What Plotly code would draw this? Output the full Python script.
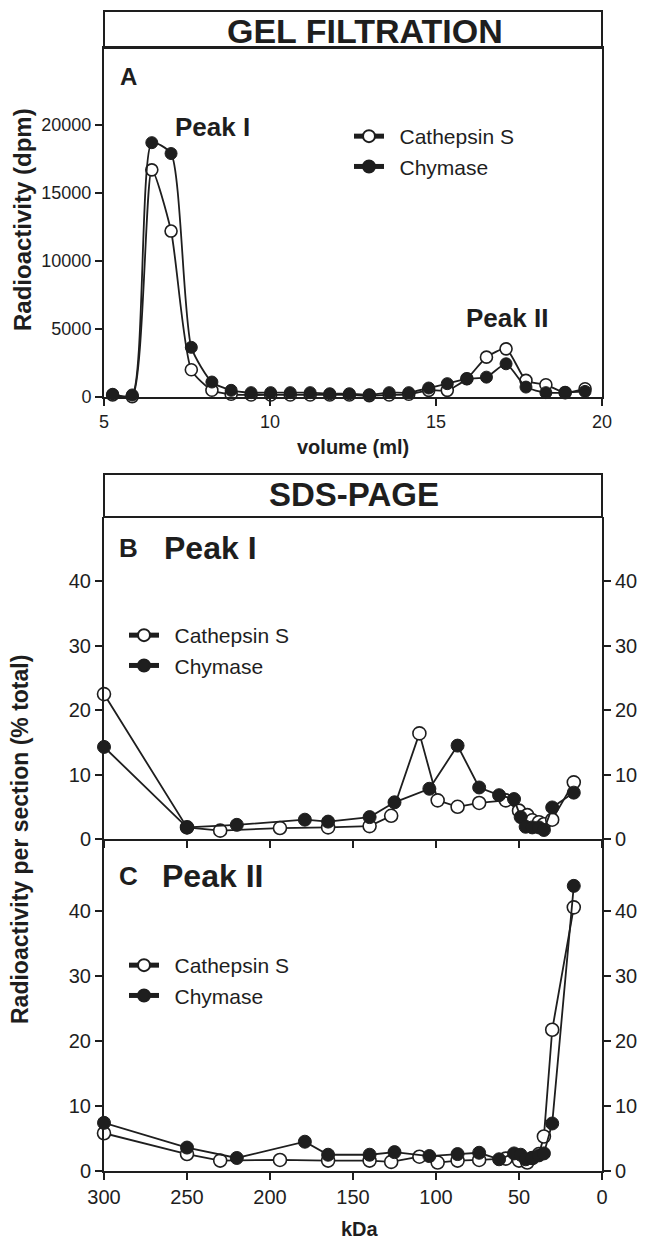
import plotly.graph_objects as go

# ---------------- data ----------------
# Panel A: gel filtration (volume in ml, radioactivity in dpm)
volume_ml = [5.26, 5.85, 6.44, 7.02, 7.63, 8.25, 8.83, 9.43, 10.02, 10.61, 11.21, 11.80,
             12.39, 12.99, 13.59, 14.18, 14.78, 15.34, 15.93, 16.52, 17.11, 17.71, 18.31,
             18.89, 19.49]
cathepsin_A = [150, 30, 16700, 12200, 2000, 500, 200, 150, 150, 150, 150, 150, 150, 100,
               150, 200, 490, 490, 1340, 2930, 3540, 1220, 900, 320, 610]
chymase_A = [200, 150, 18700, 17900, 3650, 1100, 490, 320, 320, 320, 320, 240, 240, 170,
             320, 320, 660, 980, 1340, 1460, 2440, 730, 320, 320, 410]

# Panels B/C: SDS-PAGE sections (kDa) and % total radioactivity
kda_cathepsin = [300, 250, 230, 194, 165, 140, 127, 110, 99, 87, 74, 58, 50, 45, 42, 38, 35, 30, 17]
kda_chymase = [300, 250, 220, 179, 165, 140, 125, 104, 87, 74, 62, 53, 49, 46, 42, 38, 35, 30, 17]
cathepsin_B = [22.5, 1.8, 1.3, 1.7, 1.8, 2.0, 3.6, 16.4, 6.0, 5.0, 5.6, 6.0, 4.4, 3.7, 2.9, 2.6, 2.3, 3.0, 8.8]
chymase_B = [14.3, 1.8, 2.2, 3.0, 2.7, 3.4, 5.7, 7.8, 14.5, 8.0, 6.8, 6.2, 3.4, 1.9, 1.8, 1.8, 1.4, 4.9, 7.2]
cathepsin_C = [5.8, 2.6, 1.6, 1.7, 1.6, 1.6, 1.4, 2.2, 1.3, 1.6, 1.7, 1.9, 1.6, 1.3, 2.0, 2.6, 5.3, 21.7, 40.5]
chymase_C = [7.4, 3.6, 2.0, 4.5, 2.5, 2.5, 2.9, 2.3, 2.6, 2.8, 1.8, 2.7, 2.5, 1.8, 2.0, 2.4, 2.7, 7.3, 43.8]

names = ["Cathepsin S", "Chymase"]
ticks_A_x = [5, 10, 15, 20]
ticks_A_y = [0, 5000, 10000, 15000, 20000]
ticks_kda = [300, 250, 200, 150, 100, 50, 0]
ticks_pct = [0, 10, 20, 30, 40]

# ---------------- layout helpers ----------------
W, H = 659, 1243
OFF = 8  # the page body margin shifts the figure by 8 px
def px(x):
    return (x - OFF) / W
def py(y):
    return 1 - (y - OFF) / H

INK = "#1e1e1e"
SANS = "Liberation Sans, Arial, sans-serif"
XL, XR = 104, 602

fig = go.Figure()

def add_pair(x_cat, y_cat, x_chy, y_chy, xa, ya, legend, msize, shape):
    fig.add_trace(go.Scatter(
        x=x_cat, y=y_cat, name="\u2002" + names[0],
        mode="lines+markers", xaxis=xa, yaxis=ya, legend=legend, cliponaxis=False,
        line=dict(color=INK, width=1.8, shape=shape, smoothing=0.6),
        marker=dict(symbol="circle", size=msize, color="white", line=dict(color=INK, width=1.6))))
    fig.add_trace(go.Scatter(
        x=x_chy, y=y_chy, name="\u2002" + names[1],
        mode="lines+markers", xaxis=xa, yaxis=ya, legend=legend, cliponaxis=False,
        line=dict(color=INK, width=1.8, shape=shape, smoothing=0.6),
        marker=dict(symbol="circle", size=msize, color=INK, line=dict(color=INK, width=1))))

add_pair(volume_ml, cathepsin_A, volume_ml, chymase_A, "x", "y", "legend", 12, "spline")
add_pair(kda_cathepsin, cathepsin_B, kda_chymase, chymase_B, "x2", "y2", "legend2", 13, "linear")
add_pair(kda_cathepsin, cathepsin_C, kda_chymase, chymase_C, "x3", "y3", "legend3", 13, "linear")
# empty traces to host the right-hand axes of B and C
fig.add_trace(go.Scatter(x=[], y=[], xaxis="x2", yaxis="y4", showlegend=False))
fig.add_trace(go.Scatter(x=[], y=[], xaxis="x3", yaxis="y5", showlegend=False))

axis_common = dict(showline=True, linecolor=INK, linewidth=2, ticks="outside", tickcolor=INK,
                   tickwidth=2, ticklen=7, showgrid=False, zeroline=False, automargin=False)

dom_x = [px(XL), px(XR)]
dom_A = [py(397), py(48)]
dom_B = [py(839), py(517)]
dom_C = [py(1171), py(839)]

leg = dict(xanchor="left", yanchor="top", bgcolor="rgba(0,0,0,0)",
           font=dict(size=21, family=SANS, color=INK), tracegroupgap=0, itemsizing="constant")

fig.update_layout(
    template="none",
    width=W, height=H, margin=dict(l=0, r=0, t=0, b=0, autoexpand=False),
    paper_bgcolor="white", plot_bgcolor="white",
    font=dict(family=SANS, color=INK),
    xaxis=dict(axis_common, domain=dom_x, anchor="y", range=[5, 20], tickvals=ticks_A_x,
               mirror=True, tickfont=dict(size=18)),
    yaxis=dict(axis_common, domain=dom_A, anchor="x", range=[0, 25660], tickvals=ticks_A_y,
               tickformat="d", mirror=True, tickfont=dict(size=18)),
    xaxis2=dict(axis_common, domain=dom_x, anchor="y2", range=[300, 0], tickvals=ticks_kda,
                showticklabels=False),
    yaxis2=dict(axis_common, domain=dom_B, anchor="x2", range=[0, 50], tickvals=ticks_pct,
                tickfont=dict(size=20)),
    xaxis3=dict(axis_common, domain=dom_x, anchor="y3", range=[300, 0], tickvals=ticks_kda,
                tickfont=dict(size=20)),
    yaxis3=dict(axis_common, domain=dom_C, anchor="x3", range=[0, 51], tickvals=ticks_pct,
                tickfont=dict(size=20)),
    yaxis4=dict(axis_common, overlaying="y2", side="right", anchor="x2", range=[0, 50],
                tickvals=ticks_pct, tickfont=dict(size=20)),
    yaxis5=dict(axis_common, overlaying="y3", side="right", anchor="x3", range=[0, 51],
                tickvals=ticks_pct, tickfont=dict(size=20)),
    legend=dict(leg, x=px(349), y=py(116)),
    legend2=dict(leg, x=px(124), y=py(615)),
    legend3=dict(leg, x=px(124), y=py(945)),
    showlegend=True,
)

# title boxes
for (y0, y1) in [(48, 11), (517, 474)]:
    fig.add_shape(type="rect", xref="paper", yref="paper", x0=px(XL), x1=px(XR),
                  y0=py(y0), y1=py(y1), line=dict(color=INK, width=2), fillcolor="white", layer="below")

def ann(text, x, y, size, xanchor="left", angle=0):
    fig.add_annotation(text=text, x=px(x), y=py(y), xref="paper", yref="paper",
                       xanchor=xanchor, yanchor="middle", showarrow=False, textangle=angle,
                       font=dict(size=size, family=SANS, color=INK))

ann("<b>GEL FILTRATION</b>", 365, 31, 34, "center")
ann("<b>A</b>", 118, 77, 24)
ann("<b>Peak I</b>", 173, 127, 26)
ann("<b>Peak II</b>", 464, 318, 26)
ann("<b>volume (ml)</b>", 353, 447, 20, "center")
ann("<b>Radioactivity (dpm)</b>", 22, 220, 24, "center", angle=-90)

ann("<b>SDS-PAGE</b>", 354, 495, 33, "center")
ann("<b>B</b>", 117, 548, 26)
ann("<b>Peak I</b>", 162, 548, 32)
ann("<b>C</b>", 117, 876, 26)
ann("<b>Peak II</b>", 160, 876, 32)
ann("<b>kDa</b>", 360, 1229, 20, "center")
ann("<b>Radioactivity per section (% total)</b>", 20, 840, 23, "center", angle=-90)

fig.write_html("out.html")
